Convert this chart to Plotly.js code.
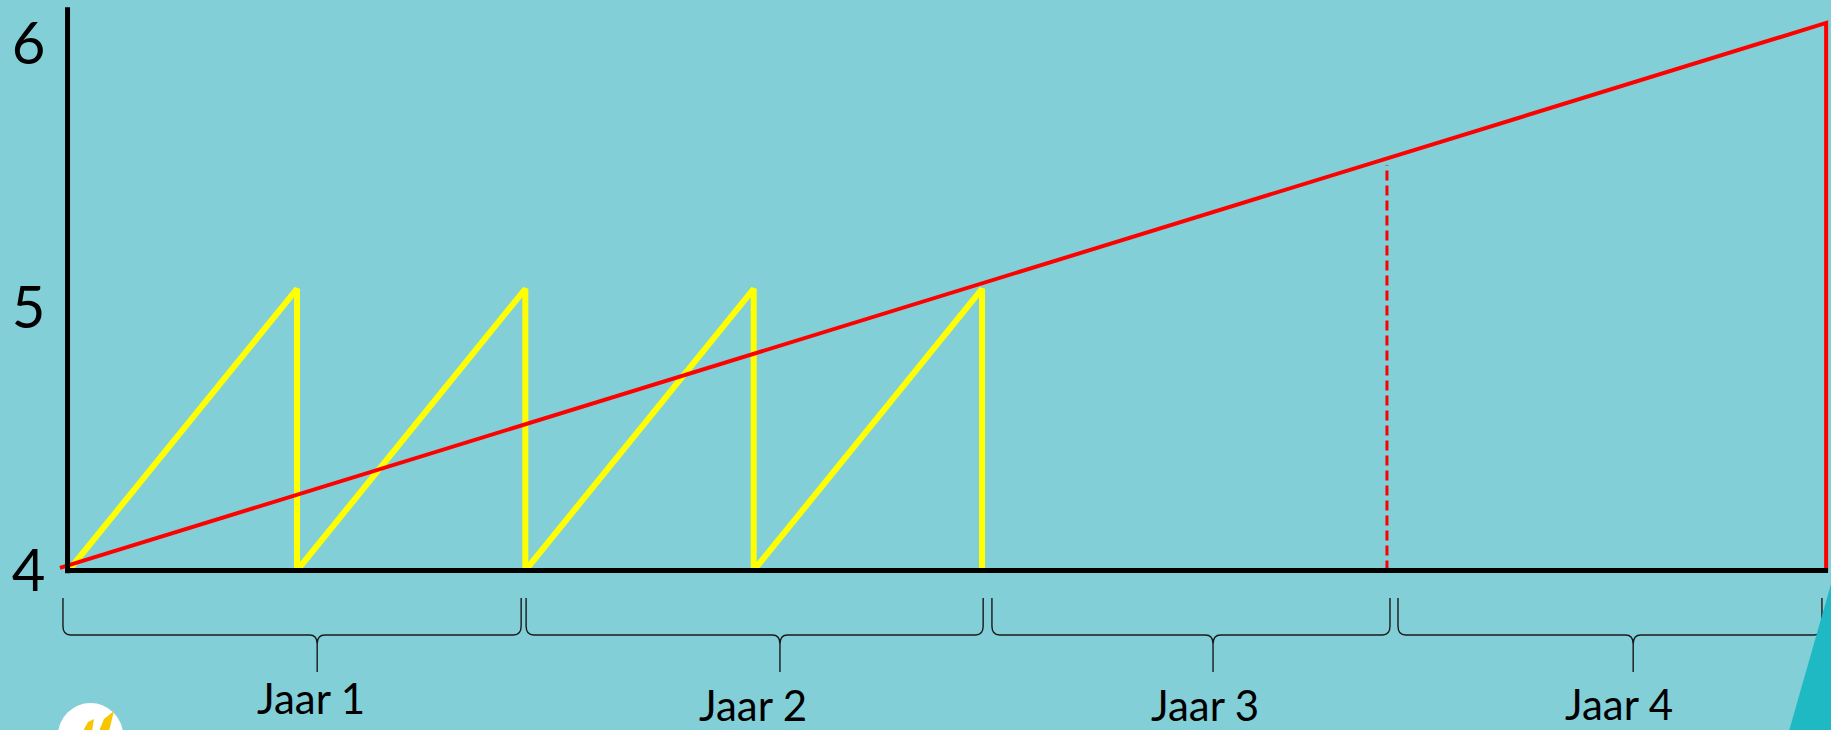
<!DOCTYPE html>
<html>
<head>
<meta charset="utf-8">
<script src="https://cdn.plot.ly/plotly-3.0.1.min.js"></script>
<style>
  html, body { margin: 0; padding: 0; background: #82CFD8; }
  #chart { width: 1831px; height: 730px; }
</style>
</head>
<body>
<div id="chart"></div>
<script>
// ---------- data (x in months, y in value units) ----------
const yellowX = [0, 6, 6, 12, 12, 18, 18, 24, 24];
const yellowY = [4, 5.07, 4, 5.07, 4, 5.07, 4, 5.07, 4];

const redX = [-0.23, 46.18, 46.18];
const redY = [4.01, 6.08, 4];

const dashX = [34.64, 34.64];
const dashY = [4, 5.54];

const yTickVals = [4, 5, 6];
const yTickText = ['4', '5', '6'];

const yearLabels = ['Jaar 1', 'Jaar 2', 'Jaar 3', 'Jaar 4'];
const yearStart = [-0.15, 12.02, 24.26, 34.93];
const yearEnd   = [11.89, 24.03, 34.72, 46.07];
const yearMid   = [6.53, 18.69, 30.07, 41.11];
const labelX    = [6.37, 17.98, 29.86, 40.74];

// ---------- layout constants ----------
const W = 1831, H = 730;
const X = px => px / W;
const Y = py => 1 - py / H;
const labelYpx = [698, 705, 705, 704];
const braceTop = 598, braceH = 635, braceTip = 672;
const yAxisTop = 6.14;

const BG = '#82CFD8';

// brace paths (x in data, y in paper)
const c = 0.2, d = 9;
function brace(x0, x1, xm) {
  const p = (x, py) => `${x},${Y(py)}`;
  return `M ${p(x0, braceTop)} L ${p(x0, braceH - d)} Q ${p(x0, braceH)} ${p(x0 + c, braceH)} ` +
         `L ${p(xm - c, braceH)} Q ${p(xm, braceH)} ${p(xm, braceH + d)} L ${p(xm, braceTip)} ` +
         `M ${p(xm, braceH + d)} Q ${p(xm, braceH)} ${p(xm + c, braceH)} ` +
         `L ${p(x1 - c, braceH)} Q ${p(x1, braceH)} ${p(x1, braceH - d)} L ${p(x1, braceTop)}`;
}

const shapes = [];
yearLabels.forEach((_, i) => {
  shapes.push({
    type: 'path', xref: 'x', yref: 'paper',
    path: brace(yearStart[i], yearEnd[i], yearMid[i]),
    line: { color: '#1a1a1a', width: 1.4 }
  });
});

// axis lines drawn in data coordinates
shapes.push({
  type: 'line', xref: 'x', yref: 'y',
  x0: -0.07, x1: redX[redX.length - 1] + 0.05, y0: yTickVals[0], y1: yTickVals[0],
  line: { color: '#000', width: 5 }, layer: 'above'
});
shapes.push({
  type: 'line', xref: 'x', yref: 'y',
  x0: -0.03, x1: -0.03, y0: yTickVals[0] - 0.01, y1: yAxisTop,
  line: { color: '#000', width: 5 }, layer: 'above'
});

// decorations: logo and corner triangle
shapes.push({
  type: 'circle', xref: 'paper', yref: 'paper',
  x0: X(58), x1: X(123), y0: Y(768), y1: Y(703),
  fillcolor: '#ffffff', line: { width: 0 }
});
const poly = pts => 'M ' + pts.map(([a, b]) => `${X(a)},${Y(b)}`).join(' L ') + ' Z';
shapes.push({
  type: 'path', xref: 'paper', yref: 'paper',
  path: poly([[83, 731], [88, 722], [94, 719], [92, 731]]),
  fillcolor: '#F7C600', line: { width: 0 }
});
shapes.push({
  type: 'path', xref: 'paper', yref: 'paper',
  path: poly([[99, 731], [104, 719], [114, 711], [109, 731]]),
  fillcolor: '#F7C600', line: { width: 0 }
});
shapes.push({
  type: 'path', xref: 'paper', yref: 'paper',
  path: poly([[1831, 584], [1831, 731], [1789, 731]]),
  fillcolor: '#1FB9C4', line: { width: 0 }
});

const annotations = yearLabels.map((t, i) => ({
  text: t, xref: 'x', yref: 'paper',
  x: labelX[i], y: Y(labelYpx[i]),
  xanchor: 'center', yanchor: 'middle', showarrow: false, borderpad: 0,
  font: { family: 'Lato, "Open Sans", sans-serif', size: 42, color: '#000' }
}));

const traces = [
  {
    type: 'scatter', mode: 'lines', x: yellowX, y: yellowY,
    line: { color: '#FFFF00', width: 6 }, hoverinfo: 'skip'
  },
  {
    type: 'scatter', mode: 'lines', x: redX, y: redY,
    line: { color: '#FF0000', width: 4 }, hoverinfo: 'skip'
  },
  {
    type: 'scatter', mode: 'lines', x: dashX, y: dashY,
    line: { color: '#FF0000', width: 3, dash: '10px,5px' }, hoverinfo: 'skip'
  }
];

const layout = {
  width: W, height: H,
  margin: { l: 0, r: 0, t: 0, b: 0, pad: 0 },
  paper_bgcolor: BG, plot_bgcolor: BG,
  showlegend: false,
  xaxis: {
    range: [-1.8044, 46.308], domain: [0, 1],
    visible: false, showgrid: false, zeroline: false
  },
  yaxis: {
    range: [3.39411, 6.16714], domain: [0, 1],
    anchor: 'free', position: 67.5 / W,
    tickvals: yTickVals, ticktext: yTickText,
    ticks: '', showline: false, showgrid: false, zeroline: false,
    ticklabelstandoff: 22,
    tickfont: { family: 'Lato, "Open Sans", sans-serif', size: 58, color: '#000' }
  },
  shapes: shapes,
  annotations: annotations
};

Plotly.newPlot('chart', traces, layout, { staticPlot: true, displayModeBar: false });
</script>
</body>
</html>
